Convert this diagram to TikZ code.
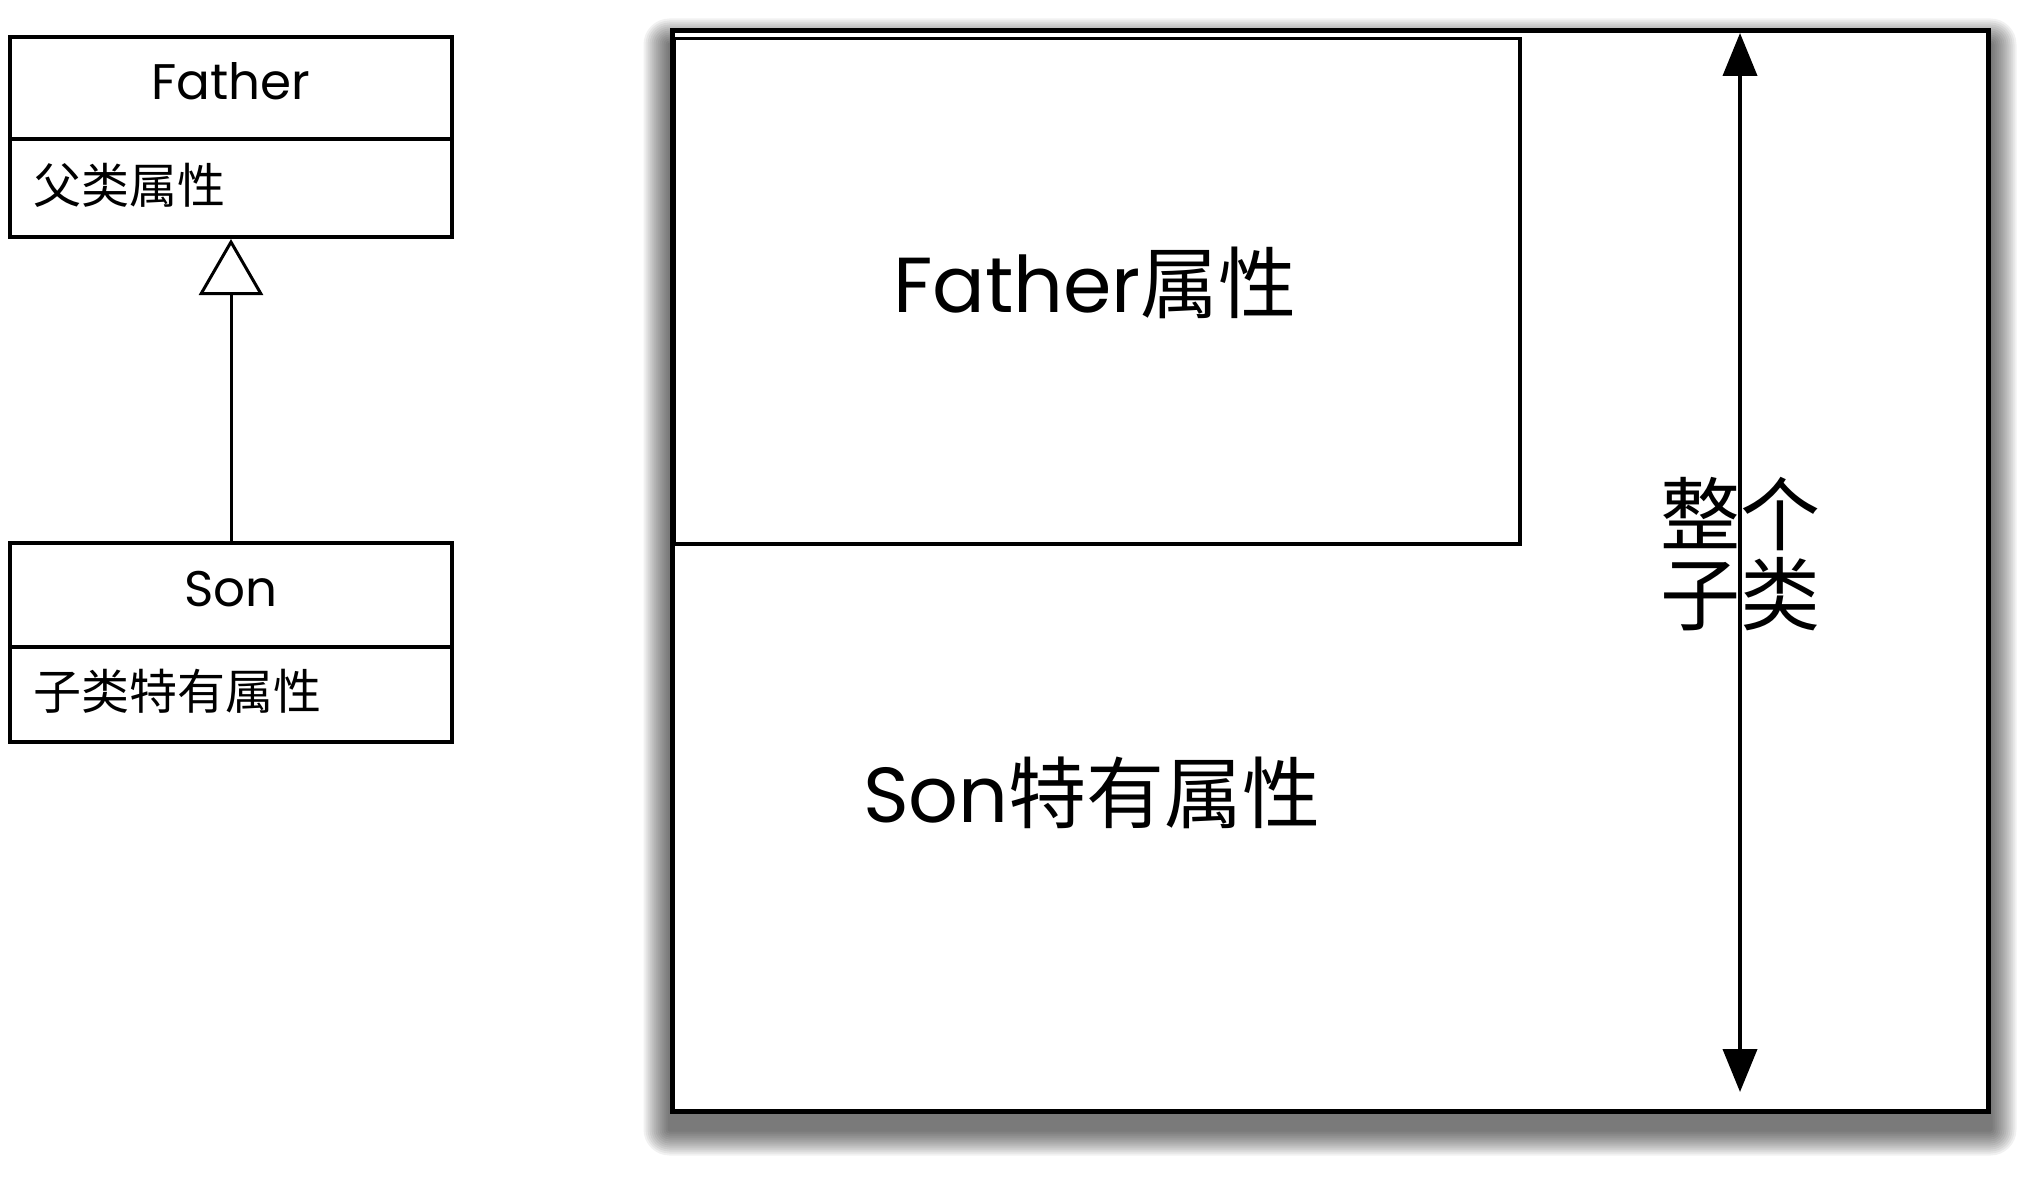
\documentclass[tikz,border=0pt]{standalone}
\usepackage{fontspec}
\setmainfont{Poppins}
\newfontfamily\cjk{Noto Sans CJK SC}
\usetikzlibrary{arrows.meta, positioning, backgrounds}

\begin{document}
\begin{tikzpicture}[
    x=1pt, y=-1pt,
    cls/.style={rectangle, draw, line width=4.5pt, outer sep=0pt, minimum width=442pt, inner sep=0pt, text depth=13pt, font=\fontsize{50}{60}\selectfont},
    attr/.style={rectangle, draw, line width=4.5pt, outer sep=0pt, text width=396pt, inner xsep=23pt, inner ysep=0pt, text depth=10pt, align=left, font=\cjk\fontsize{48}{56}\selectfont},
    part/.style={rectangle, draw, line width=3.5pt, inner sep=0pt, anchor=north west},
    big/.style={font=\fontsize{78}{90}\selectfont}
  ]
  \useasboundingbox (0,0) rectangle (2035,1177);

  % class diagram
  \node[cls, minimum height=102pt] (fhead) at (231,88) {Father};
  \node[attr, minimum height=98pt, below=0pt of fhead] (fattr) {父类属性};
  \node[cls, minimum height=104pt] (shead) at (231,595) {Son};
  \node[attr, minimum height=95pt, below=0pt of shead] (sattr) {子类特有属性};
  \draw[line width=3pt, -{Triangle[open, length=56pt, width=64pt]}, shorten >=2pt] (shead) -- (fattr);

  % object layout
  \node[rectangle, draw, line width=5pt, fill=white, minimum width=1316pt, minimum height=1080pt] (whole) at (1330,571) {};
  \begin{scope}[on background layer]
    \foreach \s in {2,4,...,26}
      \fill[black, opacity=0.055, rounded corners=\s*1pt]
        ([shift={(-\s*1pt,-\s*1pt-16pt)}]whole.south west) rectangle ([shift={(\s*1pt,\s*1pt-16pt)}]whole.north east);
  \end{scope}
  \node[part, minimum width=846pt, minimum height=505pt] (fpart) at (672,37) {};
  \node[big] (flabel) at (1095,283) {Father{\cjk 属性}};
  \node[big] (slabel) at (1092,793) {Son{\cjk 特有属性}};

  \coordinate (atop) at (1740,33);
  \coordinate (abot) at (1740,1092);
  \draw[line width=4pt, {Triangle[length=43pt, width=34pt]}-{Triangle[length=43pt, width=34pt]}] (atop) -- (abot);
  \node[font=\cjk\fontsize{80}{80}\selectfont, align=center, inner sep=0pt] (lbl) at (1740,554) {整个\\子类};
\end{tikzpicture}
\end{document}
